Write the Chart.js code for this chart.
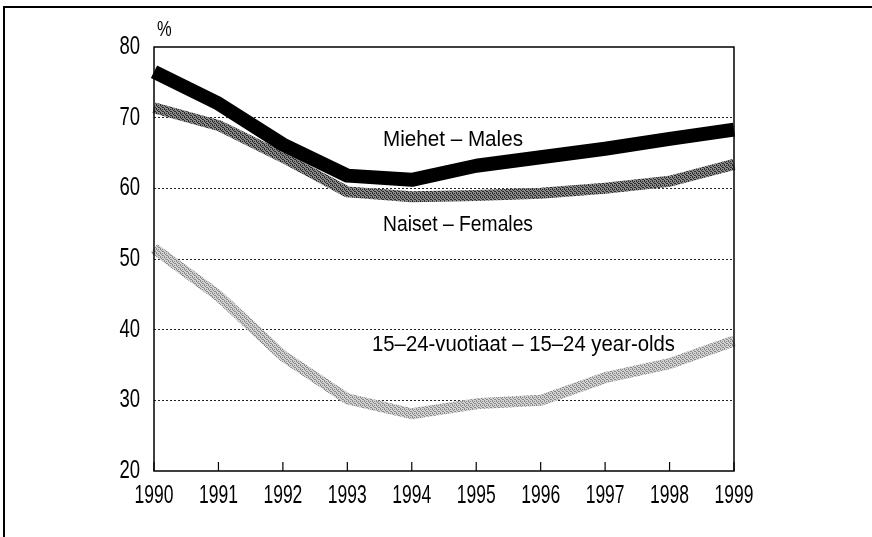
<!DOCTYPE html>
<html>
<head>
<meta charset="utf-8">
<script src="https://cdn.jsdelivr.net/npm/chart.js@4"></script>
<style>
  body { margin: 0; background: #fff; }
  canvas { display: block; }
</style>
</head>
<body>
<canvas id="mainChart" width="872" height="537"></canvas>
<script>
const years = ['1990', '1991', '1992', '1993', '1994', '1995', '1996', '1997', '1998', '1999'];
const males = [76.5, 72, 66.2, 61.8, 61.2, 63.2, 64.4, 65.6, 67, 68.3];
const females = [71.4, 68.9, 64.4, 59.5, 58.8, 59, 59.3, 60, 61, 63.4];
const youth = [51.5, 44.8, 36.3, 30.2, 28.1, 29.5, 30, 33.2, 35.2, 38.4];
const yTicks = [20, 30, 40, 50, 60, 70, 80];

const FONT = "'Liberation Sans', Arial, sans-serif";

// small stipple patterns to imitate the printed grey tones
function stipple(dark, light) {
    const c = document.createElement('canvas');
    c.width = 4; c.height = 4;
    const g = c.getContext('2d');
    g.fillStyle = light;
    g.fillRect(0, 0, 4, 4);
    g.fillStyle = dark;
    g.fillRect(0, 0, 1, 1); g.fillRect(2, 1, 1, 1);
    g.fillRect(1, 2, 1, 1); g.fillRect(3, 3, 1, 1);
    g.fillRect(2, 3, 1, 1); g.fillRect(0, 1, 1, 1);
    return g.createPattern(c, 'repeat');
}

// condensed text: the original uses a narrow grotesque, so squeeze Liberation Sans
function narrowText(ctx, text, x, y, size, sx, align) {
    ctx.save();
    ctx.font = size + 'px ' + FONT;
    ctx.textBaseline = 'middle';
    ctx.textAlign = align || 'left';
    ctx.translate(x, y);
    ctx.scale(sx, 1);
    ctx.fillText(text, 0, 0);
    ctx.restore();
}

function fitText(ctx, text, x, y, size, width) {
    ctx.font = size + 'px ' + FONT;
    const w = ctx.measureText(text).width;
    narrowText(ctx, text, x, y, size, width / w, 'left');
}

const frame = {
    id: 'frame',
    afterDraw(chart) {
        const ctx = chart.ctx;
        const a = chart.chartArea;
        const xs = chart.scales.x;
        const ys = chart.scales.y;
        ctx.save();
        ctx.strokeStyle = '#000';
        ctx.fillStyle = '#000';
        // page frame (top and left only)
        ctx.lineWidth = 2;
        ctx.beginPath();
        ctx.moveTo(4, 537); ctx.lineTo(4, 7); ctx.lineTo(872, 7);
        ctx.stroke();
        // plot box
        ctx.lineWidth = 1.5;
        ctx.strokeRect(a.left, a.top, a.right - a.left, a.bottom - a.top);
        // inward x ticks and year labels
        ctx.lineWidth = 1.2;
        years.forEach((y, i) => {
            const px = xs.getPixelForValue(i);
            ctx.beginPath();
            ctx.moveTo(px, a.bottom); ctx.lineTo(px, a.bottom - 9);
            ctx.stroke();
            narrowText(ctx, y, px, a.bottom + 25, 25, 0.7, 'center');
        });
        yTicks.forEach(v => {
            narrowText(ctx, String(v), a.left - 14, ys.getPixelForValue(v), 25, 0.74, 'right');
        });
        narrowText(ctx, '%', a.left + 3, 30, 22, 0.75, 'left');
        fitText(ctx, 'Miehet \u2013 Males', 383, 140, 22, 140);
        fitText(ctx, 'Naiset \u2013 Females', 383, 225, 22, 150);
        fitText(ctx, '15\u201324-vuotiaat \u2013 15\u201324 year-olds', 372, 345, 22, 303);
        ctx.restore();
    }
};

const ctx = document.getElementById('mainChart').getContext('2d');
new Chart(ctx, {
    type: 'line',
    data: {
        labels: years,
        datasets: [{
            label: 'Miehet - Males',
            data: males,
            borderColor: '#000',
            borderWidth: 14,
            pointRadius: 0,
            tension: 0,
            borderJoinStyle: 'round'
        }, {
            label: 'Naiset - Females',
            data: females,
            borderColor: stipple('#2a2a2a', '#8a8a8a'),
            borderWidth: 11,
            pointRadius: 0,
            tension: 0,
            borderJoinStyle: 'round'
        }, {
            label: '15-24',
            data: youth,
            borderColor: stipple('#8a8a8a', '#d2d2d2'),
            borderWidth: 11,
            pointRadius: 0,
            tension: 0,
            borderJoinStyle: 'round'
        }]
    },
    options: {
        responsive: false,
        animation: false,
        layout: { padding: { left: 0, right: 138, top: 47, bottom: 0 } },
        plugins: { legend: { display: false }, tooltip: { enabled: false } },
        scales: {
            x: {
                offset: false,
                grid: { display: false },
                border: { display: false },
                ticks: { display: false },
                afterFit(s) { s.height = 66; }
            },
            y: {
                min: 20,
                max: 80,
                afterBuildTicks(s) { s.ticks = yTicks.map(v => ({ value: v })); },
                grid: {
                    color: c => (c.tick.value === 20 || c.tick.value === 80) ? 'rgba(0,0,0,0)' : '#222',
                    lineWidth: 1,
                    drawTicks: false
                },
                border: { display: false, dash: [2, 2] },
                ticks: { display: false },
                afterFit(s) { s.width = 154; }
            }
        }
    },
    plugins: [frame]
});
</script>
</body>
</html>
